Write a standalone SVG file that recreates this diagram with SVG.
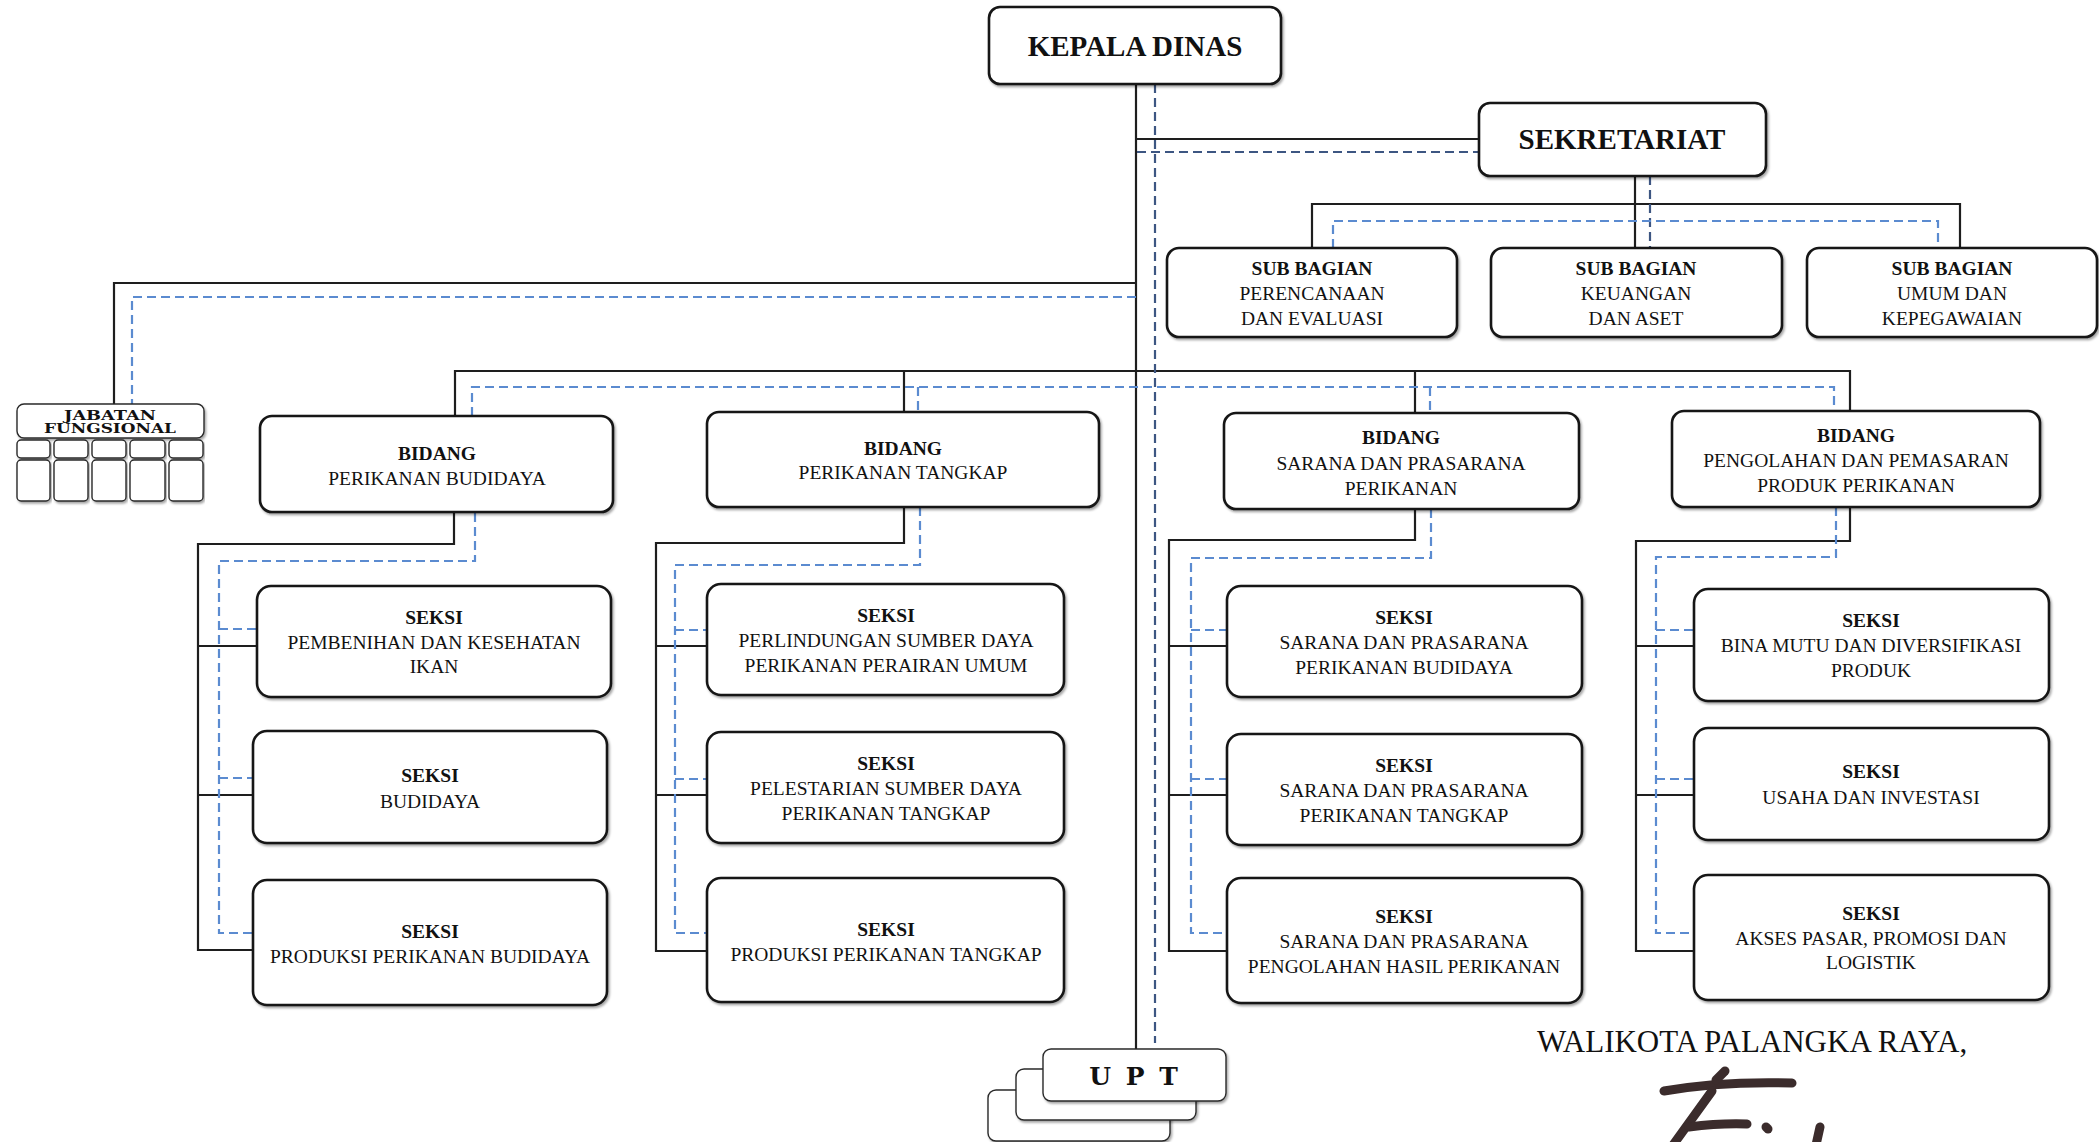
<svg xmlns="http://www.w3.org/2000/svg" width="2099" height="1142" viewBox="0 0 2099 1142">
<defs>
<filter id="sh" x="-5%" y="-10%" width="110%" height="130%">
<feDropShadow dx="1.5" dy="2" stdDeviation="1.2" flood-color="#000" flood-opacity="0.35"/>
</filter>
<style>
.box{fill:#fff;stroke:#151515;stroke-width:2.6;filter:url(#sh)}
.sbox{fill:#fff;stroke:#2a2a2a;stroke-width:1.4;filter:url(#sh)}
.ln{fill:none;stroke:#1e1e1e;stroke-width:2.2}
.dk{fill:none;stroke:#3d5682;stroke-width:2.2;stroke-dasharray:9 5}
.lt{fill:none;stroke:#5b8bd0;stroke-width:2.2;stroke-dasharray:9 5}
text{font-family:"Liberation Serif","Times New Roman",serif;fill:#111;text-anchor:middle}
.h{font-size:29px;font-weight:bold}
.b{font-size:19.5px;font-weight:bold}
.r{font-size:19.5px}
.jf{font-family:"DejaVu Serif",serif;font-size:12px;font-weight:bold}
.upt{font-family:"DejaVu Serif",serif;font-size:25px;font-weight:bold;letter-spacing:3px}
.wk{font-size:31px;text-anchor:start}
.sig{fill:none;stroke:#3b2c2c;stroke-linecap:round;stroke-width:9}
</style>
</defs>
<rect width="2099" height="1142" fill="#fff"/>

<g id="connectors">
<!-- solid -->
<path class="ln" d="M1136,84 V1049"/>
<path class="ln" d="M1136,139 H1479"/>
<path class="ln" d="M1635,176 V248"/>
<path class="ln" d="M1312,248 V204 H1960 V248"/>
<path class="ln" d="M1136,283 H114 V404"/>
<path class="ln" d="M455,416 V371 H1850 V411 M904,371 V412 M1415,371 V413"/>
<path class="ln" d="M454,513 V544 H198 V950 H253 M198,646 H257 M198,795 H253"/>
<path class="ln" d="M904,507 V543 H656 V951 H707 M656,646 H707 M656,795 H707"/>
<path class="ln" d="M1415,509 V540 H1169 V951 H1227 M1169,646 H1227 M1169,795 H1227"/>
<path class="ln" d="M1850,507 V541 H1636 V951 H1694 M1636,646 H1694 M1636,795 H1694"/>
<!-- dashed dark -->
<path class="dk" d="M1155,84 V1043"/>
<path class="dk" d="M1137,152 H1479"/>
<path class="dk" d="M1650,176 V248"/>
<!-- dashed light -->
<path class="lt" d="M1333,248 V221 H1938 V248"/>
<path class="lt" d="M1136,297 H132 V404"/>
<path class="lt" d="M472,416 V387 H1834 V411 M918,387 V412 M1430,387 V413"/>
<path class="lt" d="M475,513 V561 H219 V933 H253 M219,629 H257 M219,778 H253"/>
<path class="lt" d="M920,507 V565 H675 V933 H707 M675,630 H707 M675,779 H707"/>
<path class="lt" d="M1431,509 V558 H1191 V933 H1227 M1191,630 H1227 M1191,779 H1227"/>
<path class="lt" d="M1836,507 V557 H1656 V933 H1694 M1656,630 H1694 M1656,779 H1694"/>
</g>

<g id="kepala-dinas">
<rect class="box" x="989" y="7" width="292" height="77" rx="11"/>
<text class="h" x="1135" y="56">KEPALA DINAS</text>
</g>

<g id="sekretariat">
<rect class="box" x="1479" y="103" width="287" height="73" rx="11"/>
<text class="h" x="1622" y="149">SEKRETARIAT</text>
</g>

<g id="sub-perencanaan">
<rect class="box" x="1167" y="248" width="290" height="89" rx="12"/>
<text class="b" x="1312" y="275">SUB BAGIAN</text>
<text class="r" x="1312" y="300">PERENCANAAN</text>
<text class="r" x="1312" y="325">DAN EVALUASI</text>
</g>

<g id="sub-keuangan">
<rect class="box" x="1491" y="248" width="291" height="89" rx="12"/>
<text class="b" x="1636" y="275">SUB BAGIAN</text>
<text class="r" x="1636" y="300">KEUANGAN</text>
<text class="r" x="1636" y="325">DAN ASET</text>
</g>

<g id="sub-umum">
<rect class="box" x="1807" y="248" width="290" height="89" rx="12"/>
<text class="b" x="1952" y="275">SUB BAGIAN</text>
<text class="r" x="1952" y="300">UMUM DAN</text>
<text class="r" x="1952" y="325">KEPEGAWAIAN</text>
</g>

<g id="jabatan-fungsional">
<rect class="sbox" x="17" y="404" width="187" height="34" rx="7"/>
<text class="jf" x="110" y="420" textLength="92" lengthAdjust="spacingAndGlyphs">JABATAN</text>
<text class="jf" x="110" y="433" textLength="132" lengthAdjust="spacingAndGlyphs">FUNGSIONAL</text>
<rect class="sbox" x="17" y="440" width="33" height="18" rx="4"/>
<rect class="sbox" x="54" y="440" width="34" height="18" rx="4"/>
<rect class="sbox" x="92" y="440" width="34" height="18" rx="4"/>
<rect class="sbox" x="130" y="440" width="35" height="18" rx="4"/>
<rect class="sbox" x="169" y="440" width="34" height="18" rx="4"/>
<rect class="sbox" x="17" y="460" width="33" height="41" rx="4"/>
<rect class="sbox" x="54" y="460" width="34" height="41" rx="4"/>
<rect class="sbox" x="92" y="460" width="34" height="41" rx="4"/>
<rect class="sbox" x="130" y="460" width="35" height="41" rx="4"/>
<rect class="sbox" x="169" y="460" width="34" height="41" rx="4"/>
</g>

<g id="bidang-budidaya">
<rect class="box" x="260" y="416" width="353" height="96" rx="12"/>
<text class="b" x="437" y="460">BIDANG</text>
<text class="r" x="437" y="485">PERIKANAN BUDIDAYA</text>
</g>

<g id="bidang-tangkap">
<rect class="box" x="707" y="412" width="392" height="95" rx="12"/>
<text class="b" x="903" y="455">BIDANG</text>
<text class="r" x="903" y="479">PERIKANAN TANGKAP</text>
</g>

<g id="bidang-sarana">
<rect class="box" x="1224" y="413" width="355" height="96" rx="12"/>
<text class="b" x="1401" y="444">BIDANG</text>
<text class="r" x="1401" y="470">SARANA DAN PRASARANA</text>
<text class="r" x="1401" y="495">PERIKANAN</text>
</g>

<g id="bidang-pengolahan">
<rect class="box" x="1672" y="411" width="368" height="96" rx="12"/>
<text class="b" x="1856" y="442">BIDANG</text>
<text class="r" x="1856" y="467">PENGOLAHAN DAN PEMASARAN</text>
<text class="r" x="1856" y="492">PRODUK PERIKANAN</text>
</g>

<g id="seksi-pembenihan">
<rect class="box" x="257" y="586" width="354" height="111" rx="14"/>
<text class="b" x="434" y="624">SEKSI</text>
<text class="r" x="434" y="649">PEMBENIHAN DAN KESEHATAN</text>
<text class="r" x="434" y="673">IKAN</text>
</g>
<g id="seksi-budidaya">
<rect class="box" x="253" y="731" width="354" height="112" rx="14"/>
<text class="b" x="430" y="782">SEKSI</text>
<text class="r" x="430" y="808">BUDIDAYA</text>
</g>
<g id="seksi-produksi-budidaya">
<rect class="box" x="253" y="880" width="354" height="125" rx="14"/>
<text class="b" x="430" y="938">SEKSI</text>
<text class="r" x="430" y="963">PRODUKSI PERIKANAN BUDIDAYA</text>
</g>

<g id="seksi-perlindungan">
<rect class="box" x="707" y="584" width="357" height="111" rx="14"/>
<text class="b" x="886" y="622">SEKSI</text>
<text class="r" x="886" y="647">PERLINDUNGAN SUMBER DAYA</text>
<text class="r" x="886" y="672">PERIKANAN PERAIRAN UMUM</text>
</g>
<g id="seksi-pelestarian">
<rect class="box" x="707" y="732" width="357" height="111" rx="14"/>
<text class="b" x="886" y="770">SEKSI</text>
<text class="r" x="886" y="795">PELESTARIAN SUMBER DAYA</text>
<text class="r" x="886" y="820">PERIKANAN TANGKAP</text>
</g>
<g id="seksi-produksi-tangkap">
<rect class="box" x="707" y="878" width="357" height="124" rx="14"/>
<text class="b" x="886" y="936">SEKSI</text>
<text class="r" x="886" y="961">PRODUKSI PERIKANAN TANGKAP</text>
</g>

<g id="seksi-sarpras-budidaya">
<rect class="box" x="1227" y="586" width="355" height="111" rx="14"/>
<text class="b" x="1404" y="624">SEKSI</text>
<text class="r" x="1404" y="649">SARANA DAN PRASARANA</text>
<text class="r" x="1404" y="674">PERIKANAN BUDIDAYA</text>
</g>
<g id="seksi-sarpras-tangkap">
<rect class="box" x="1227" y="734" width="355" height="111" rx="14"/>
<text class="b" x="1404" y="772">SEKSI</text>
<text class="r" x="1404" y="797">SARANA DAN PRASARANA</text>
<text class="r" x="1404" y="822">PERIKANAN TANGKAP</text>
</g>
<g id="seksi-sarpras-pengolahan">
<rect class="box" x="1227" y="878" width="355" height="125" rx="14"/>
<text class="b" x="1404" y="923">SEKSI</text>
<text class="r" x="1404" y="948">SARANA DAN PRASARANA</text>
<text class="r" x="1404" y="973">PENGOLAHAN HASIL PERIKANAN</text>
</g>

<g id="seksi-bina-mutu">
<rect class="box" x="1694" y="589" width="355" height="112" rx="14"/>
<text class="b" x="1871" y="627">SEKSI</text>
<text class="r" x="1871" y="652">BINA MUTU DAN DIVERSIFIKASI</text>
<text class="r" x="1871" y="677">PRODUK</text>
</g>
<g id="seksi-usaha">
<rect class="box" x="1694" y="728" width="355" height="112" rx="14"/>
<text class="b" x="1871" y="778">SEKSI</text>
<text class="r" x="1871" y="804">USAHA DAN INVESTASI</text>
</g>
<g id="seksi-akses-pasar">
<rect class="box" x="1694" y="875" width="355" height="125" rx="14"/>
<text class="b" x="1871" y="920">SEKSI</text>
<text class="r" x="1871" y="945">AKSES PASAR, PROMOSI DAN</text>
<text class="r" x="1871" y="969">LOGISTIK</text>
</g>

<g id="upt">
<rect class="sbox" x="988" y="1090" width="182" height="51" rx="8"/>
<rect class="sbox" x="1016" y="1069" width="180" height="51" rx="8"/>
<rect class="sbox" x="1043" y="1049" width="183" height="52" rx="8"/>
<text class="upt" x="1135" y="1085">U P T</text>
</g>

<g id="walikota">
<text class="wk" x="1537" y="1052">WALIKOTA PALANGKA RAYA,</text>
<path class="sig" d="M1664,1091 Q1720,1081 1792,1083"/>
<path class="sig" stroke-width="7" d="M1716,1080 L1725,1071"/>
<path class="sig" d="M1712,1091 L1673,1145"/>
<path class="sig" d="M1689,1127 Q1720,1123 1747,1124"/>
<path class="sig" stroke-width="7" d="M1766,1127 L1768,1129"/>
<path class="sig" d="M1820,1127 L1816,1145"/>
</g>
</svg>
